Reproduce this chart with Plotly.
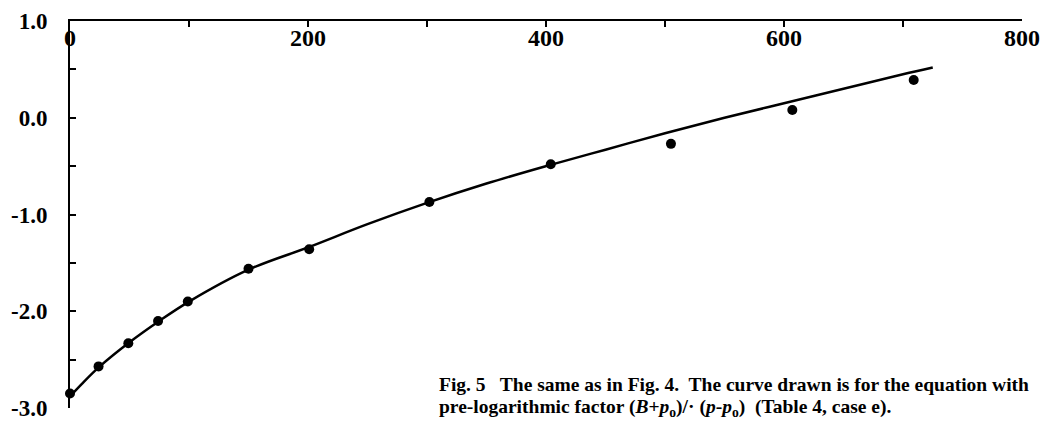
import plotly.graph_objects as go

# measured data points
x_pts = [0, 24, 49, 74, 99, 150, 201, 302, 404, 505, 607, 709]
y_pts = [-2.85, -2.57, -2.33, -2.10, -1.90, -1.56, -1.36, -0.87, -0.48, -0.27, 0.08, 0.39]

# fitted curve
x_curve = [0, 10, 25, 50, 75, 100, 150, 200, 250, 300, 350, 400, 450, 500, 550, 600, 650, 700, 725]
y_curve = [-2.88, -2.75, -2.57, -2.32, -2.10, -1.90, -1.57, -1.34, -1.10, -0.88, -0.68, -0.50,
           -0.33, -0.16, 0.00, 0.15, 0.30, 0.45, 0.52]

x_tickvals = [0, 200, 400, 600, 800]
x_ticktext = ["0", "200", "400", "600", "800"]
y_tickvals = [1, 0, -1, -2, -3]
y_ticktext = ["1.0", "0.0", "-1.0", "-2.0", "-3.0"]

caption_1 = "Fig. 5\u00a0\u00a0 The same as in Fig. 4.\u00a0 The curve drawn is for the equation with"
caption_2 = ("pre-logarithmic factor (<i>B</i>+<i>p</i><sub>o</sub>)/\u00b7 (<i>p</i>-<i>p</i><sub>o</sub>)"
             "\u00a0 (Table 4, case e).")

FONT = "Liberation Serif"
X_RANGE = [0, 800]

fig = go.Figure()
fig.add_trace(go.Scatter(x=x_curve, y=y_curve, mode="lines",
                         line=dict(color="black", width=2.5, shape="spline"),
                         cliponaxis=False, showlegend=False))
fig.add_trace(go.Scatter(x=x_pts, y=y_pts, mode="markers", xaxis="x2",
                         marker=dict(color="black", size=10),
                         cliponaxis=False, showlegend=False))

fig.update_layout(
    width=1042, height=430,
    margin=dict(l=70, r=20, t=21, b=22, autoexpand=False),
    paper_bgcolor="white", plot_bgcolor="white",
    font=dict(family=FONT, color="black"),
    xaxis=dict(
        range=X_RANGE, side="top", showgrid=False, zeroline=False, automargin=False,
        showline=True, linecolor="black", linewidth=2,
        tickvals=x_tickvals, showticklabels=False,
        ticks="inside", ticklen=6, tickwidth=2, tickcolor="black",
        minor=dict(dtick=100, tick0=0, ticks="inside", ticklen=6, tickwidth=2, tickcolor="black"),
    ),
    # label-only axis placed at the top edge so its labels fall just below the top line
    xaxis2=dict(
        range=X_RANGE, overlaying="x", anchor="free", position=1, side="bottom",
        automargin=False,
        showline=False, showgrid=False, zeroline=False, ticks="",
        tickvals=x_tickvals, ticktext=x_ticktext,
        tickfont=dict(family=FONT, size=24, weight="bold", color="black"),
    ),
    yaxis=dict(
        range=[-3, 1], showgrid=False, zeroline=False, automargin=False,
        showline=True, linecolor="black", linewidth=2,
        tickvals=y_tickvals, ticktext=y_ticktext,
        ticks="inside", ticklen=6, tickwidth=2, tickcolor="black",
        ticklabelstandoff=16,
        tickfont=dict(family=FONT, size=23, weight="bold", color="black"),
        minor=dict(dtick=0.5, tick0=0, ticks="inside", ticklen=6, tickwidth=2, tickcolor="black"),
    ),
    annotations=[
        dict(text=caption_1, xref="paper", yref="paper", x=0.3855, y=0.062,
             xanchor="left", yanchor="middle", align="left", showarrow=False,
             font=dict(family=FONT, size=19.5, weight="bold", color="black")),
        dict(text=caption_2, xref="paper", yref="paper", x=0.3855, y=0.0,
             xanchor="left", yanchor="middle", align="left", showarrow=False,
             font=dict(family=FONT, size=19.5, weight="bold", color="black")),
    ],
)

fig.write_html("out.html")
